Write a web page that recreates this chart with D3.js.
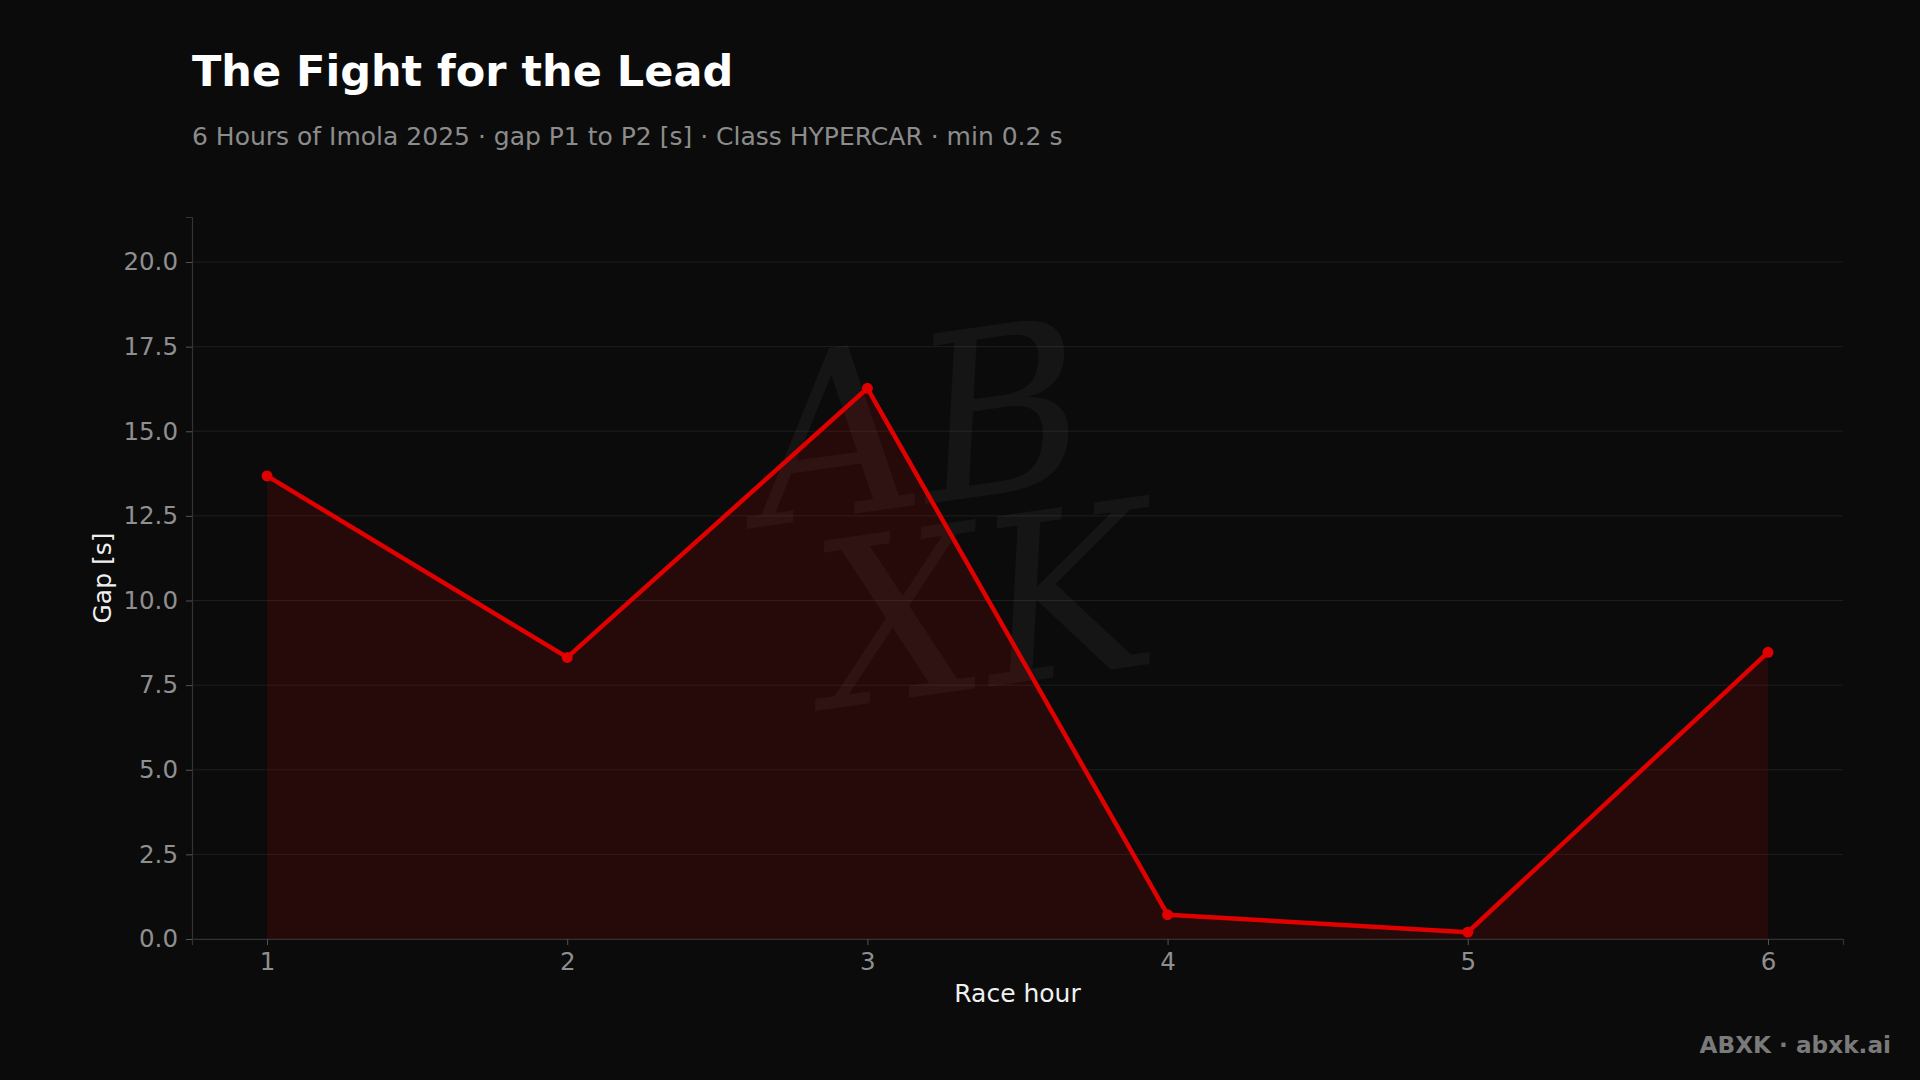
<!DOCTYPE html>
<html><head><meta charset="utf-8">
<script src="https://cdn.jsdelivr.net/npm/d3@7/dist/d3.min.js"></script>
<style>
html,body{margin:0;padding:0;background:#0b0b0b;}
svg{display:block;font-family:"DejaVu Sans",sans-serif;}
</style></head>
<body>
<script>
const hours = [1, 2, 3, 4, 5, 6];
const gaps = [13.68, 8.32, 16.27, 0.72, 0.2, 8.47];
const yTicks = [0, 2.5, 5, 7.5, 10, 12.5, 15, 17.5, 20];
const titleText = "The Fight for the Lead";
const subtitleText = "6 Hours of Imola 2025 · gap P1 to P2 [s] · Class HYPERCAR · min 0.2 s";

const W = 1920, H = 1080;
const m = {left: 192, right: 1843, top: 217, bottom: 939};

const svg = d3.select("body").append("svg").attr("width", W).attr("height", H);
svg.append("rect").attr("width", W).attr("height", H).attr("fill", "#0b0b0b");

const x = d3.scaleLinear().domain([0.75, 6.25]).range([m.left, m.right]);
const y = d3.scaleLinear().domain([0, 21.33]).range([m.bottom, m.top]);

// grid
svg.append("g").selectAll("line").data(yTicks).join("line")
  .attr("x1", m.left).attr("x2", m.right)
  .attr("y1", d => y(d)).attr("y2", d => y(d))
  .attr("stroke", "#1e1e1e").attr("stroke-width", 1);

// watermark
const wm = svg.append("g").attr("transform", "translate(955,540) rotate(-8)")
  .attr("fill", "#ffffff").attr("fill-opacity", 0.045)
  .attr("font-family", "DejaVu Serif").attr("font-style", "italic");
wm.append("text").attr("x", -20).attr("y", -40).attr("text-anchor", "middle")
  .attr("font-size", 230).text("AB");
wm.append("text").attr("x", 20).attr("y", 150).attr("text-anchor", "middle")
  .attr("font-size", 230).text("XK");

const data = hours.map((h, i) => ({h, g: gaps[i]}));

svg.append("path").datum(data)
  .attr("d", d3.area().x(d => x(d.h)).y0(y(0)).y1(d => y(d.g)))
  .attr("fill", "#e00000").attr("fill-opacity", 0.13);

svg.append("path").datum(data)
  .attr("d", d3.line().x(d => x(d.h)).y(d => y(d.g)))
  .attr("fill", "none").attr("stroke", "#e00000").attr("stroke-width", 4.5)
  .attr("stroke-linejoin", "round");

svg.append("g").selectAll("circle").data(data).join("circle")
  .attr("cx", d => x(d.h)).attr("cy", d => y(d.g)).attr("r", 5.5)
  .attr("fill", "#e00000");

// axes
const xAxis = svg.append("g").attr("transform", `translate(0,${m.bottom})`)
  .call(d3.axisBottom(x).tickValues(hours).tickFormat(d3.format("d")).tickSize(6).tickPadding(8));
const yAxis = svg.append("g").attr("transform", `translate(${m.left},0)`)
  .call(d3.axisLeft(y).tickValues(yTicks).tickFormat(d3.format(".1f")).tickSize(6).tickPadding(8));
[xAxis, yAxis].forEach(a => {
  a.select(".domain").attr("stroke", "#333333").attr("stroke-width", 1.2);
  a.selectAll(".tick line").attr("stroke", "#555555");
  a.selectAll(".tick text").attr("fill", "#8f8f8f").attr("font-size", 24.5)
    .attr("font-family", "DejaVu Sans");
});

svg.append("text").attr("x", (m.left + m.right) / 2).attr("y", 1002)
  .attr("text-anchor", "middle").attr("fill", "#f0f0f0").attr("font-size", 25)
  .text("Race hour");
svg.append("text").attr("transform", "translate(111,578) rotate(-90)")
  .attr("text-anchor", "middle").attr("fill", "#f0f0f0").attr("font-size", 25)
  .text("Gap [s]");

svg.append("text").attr("x", 192).attr("y", 86).attr("fill", "#ffffff")
  .attr("font-size", 43).attr("font-weight", "bold").text(titleText);
svg.append("text").attr("x", 192).attr("y", 145).attr("fill", "#8c8c8c")
  .attr("font-size", 25).text(subtitleText);

svg.append("text").attr("x", 1891).attr("y", 1053).attr("text-anchor", "end")
  .attr("fill", "#7a7a7a").attr("font-size", 23.2).attr("font-weight", "bold")
  .text("ABXK · abxk.ai");
</script>
</body></html>
